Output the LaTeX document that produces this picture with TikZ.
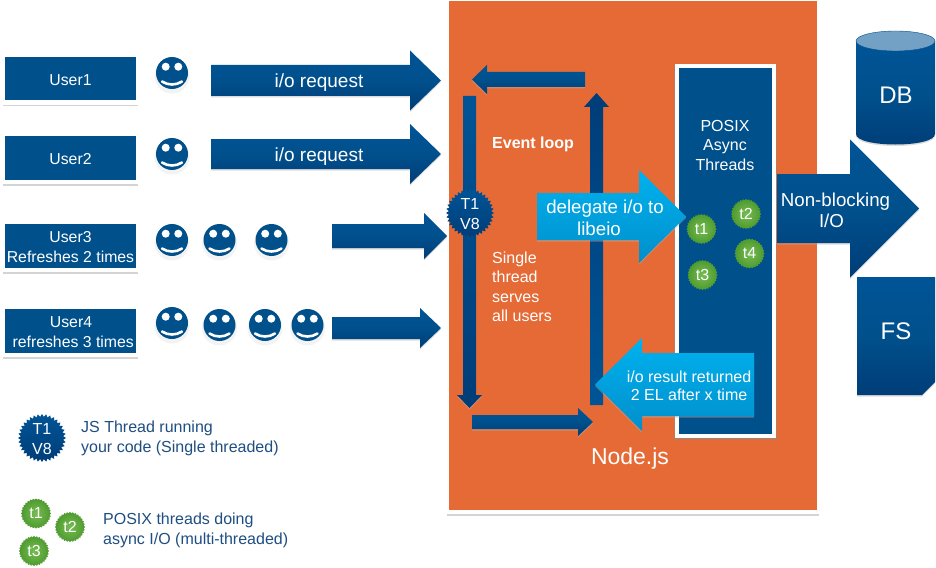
\documentclass[tikz,border=0pt]{standalone}
\usepackage{fontspec}
\setmainfont{Liberation Sans}
\usetikzlibrary{shapes.geometric}
\definecolor{orangebg}{HTML}{E56A35}
\definecolor{navy}{HTML}{00508C}
\definecolor{navytop}{HTML}{005496}
\definecolor{navybot}{HTML}{003D78}
\definecolor{skytop}{HTML}{00B2EE}
\definecolor{skybot}{HTML}{008FCC}
\definecolor{legendblue}{HTML}{1F4E82}
\definecolor{greenin}{HTML}{76BC52}
\definecolor{greenout}{HTML}{4E9A2E}
\definecolor{shadowgray}{HTML}{D2D4D6}
\tikzset{
  navyfill/.style={top color=navytop,bottom color=navybot,middle color=navy},
  skyfill/.style={top color=skytop,bottom color=skybot},
  shadowpath/.style={fill=black!30,opacity=.45,yshift=-1.5pt},
  userbox/.style={fill=navy,minimum width=131pt,inner sep=0pt,text=white,align=center},
  usertext/.style={text=white,inner sep=0pt,align=center,font=\fontsize{15.8}{19.6}\selectfont},
  underline/.style={line width=1.5pt,shadowgray},
  txt/.style={text=white,inner sep=0pt,align=center},
  s15/.style={font=\fontsize{16}{19.5}\selectfont},
  s17/.style={font=\fontsize{19}{22}\selectfont},
  legend/.style={text=legendblue,inner sep=0pt,align=left,anchor=west,font=\fontsize{16}{20}\selectfont},
  bluestar/.style={star,star points=36,star point ratio=1.13,minimum size=48pt,inner sep=0pt,top color=navytop,bottom color=navybot,
    label={[txt,yshift=-1pt,font=\fontsize{16}{19.5}\selectfont]center:T1\\V8}},
  gstar/.style={star,star points=32,star point ratio=1.09,minimum size=30pt,inner sep=0pt,inner color=greenin,outer color=greenout,
    label={[txt,font=\fontsize{16}{16}\selectfont]center:#1}},
  smiley/.pic={
    \fill[white] (0,1.5) circle (19);
    \fill[black!8,opacity=.6] (0,3) circle (17.5);
    \fill[navy] (0,0) circle (16);
    \fill[white] (-6.3,-6.3) circle (4) (6.3,-6.3) circle (4);
    \draw[white,line width=2.6pt,line cap=round] (-10,8.5) .. controls (-4,12.5) and (4,12.5) .. (10,8.5);
  }
}
% \harrow{style}{x0}{xhead}{xtip}{ycentre}{shaft half}{head half}
\newcommand{\harrow}[7]{%
  \path[shadowpath] (#2,#5-#6) -- (#3,#5-#6) -- (#3,#5-#7) -- (#4,#5) -- (#3,#5+#7) -- (#3,#5+#6) -- (#2,#5+#6) -- cycle;
  \path[#1] (#2,#5-#6) -- (#3,#5-#6) -- (#3,#5-#7) -- (#4,#5) -- (#3,#5+#7) -- (#3,#5+#6) -- (#2,#5+#6) -- cycle;
}
\begin{document}
\begin{tikzpicture}[x=1pt,y=-1pt]
\useasboundingbox (0,0) rectangle (936,567);
\fill[white] (0,0) rectangle (936,567);

% Node.js panel
\fill[orangebg] (449,1) rectangle (817,510);
\draw[underline] (447,515) -- (819,515);

% Users
\node[userbox,minimum height=43pt] (u1) at (70.5,78.5) {};
\node[userbox,minimum height=44pt] (u2) at (70.5,158) {};
\node[userbox,minimum height=44pt] (u3) at (70.5,246) {};
\node[userbox,minimum height=44pt] (u4) at (70.5,331) {};
\node[usertext] (u1t) at (70.5,80) {User1};
\node[usertext] (u2t) at (70.5,159.5) {User2};
\node[usertext] (u3t) at (70.5,247) {User3\\Refreshes 2 times};
\node[usertext] (u4t) at (71,332) {User4\\\ refreshes 3 times};
\draw[underline] (3,105.5) -- (138,105.5);
\draw[underline] (3,185) -- (138,185);
\draw[underline] (3,273) -- (138,273);
\draw[underline] (3,358) -- (138,358);

% Smileys
\pic at (172,73) {smiley};
\pic at (172,154) {smiley};
\pic at (172,240) {smiley};
\pic at (219.5,240) {smiley};
\pic at (271.5,240) {smiley};
\pic at (172,323) {smiley};
\pic at (219.5,325) {smiley};
\pic at (265,325) {smiley};
\pic at (307.5,325) {smiley};

% Request arrows
\harrow{navyfill}{211}{410}{441}{80.5}{15.5}{30}
\harrow{navyfill}{211}{410}{441}{154}{15}{30}
\harrow{navyfill}{332}{424}{447}{236}{12}{23}
\harrow{navyfill}{332}{420}{441}{328}{11}{20}
\node[txt,s17] (req1) at (319,83) {i/o request};
\node[txt,s17] (req2) at (319,157) {i/o request};

% Event loop arrows
\harrow{navyfill}{585}{487}{472}{79.5}{7.5}{14.5}
\harrow{navyfill}{472}{578}{593}{422}{7}{14}
% vertical down
\path[shadowpath] (463,96) -- (476,96) -- (476,395) -- (482,395) -- (469.5,408) -- (457,395) -- (463,395) -- cycle;
\path[top color=navytop,bottom color=navybot] (463,96) -- (476,96) -- (476,395) -- (482,395) -- (469.5,408) -- (457,395) -- (463,395) -- cycle;
% vertical up
\path[top color=navybot,bottom color=navytop] (590,405) -- (603,405) -- (603,107) -- (609,107) -- (596.5,93) -- (584,107) -- (590,107) -- cycle;

% POSIX panel
\fill[black!45,opacity=.45] (674,66) rectangle (777,440);
\node[draw=white,line width=4pt,fill=navy,minimum width=97pt,minimum height=370pt,inner sep=0pt] (posix) at (725.5,251) {};
\node[txt,s15] (posixlabel) at (725,145) {POSIX\\Async\\Threads};

% Delegate & result arrows
\harrow{skyfill}{537}{639}{686}{216.5}{23.5}{46.5}
\node[txt,font=\fontsize{18.7}{22}\selectfont] (deleg) at (605,218) {delegate i/o to\\libeio\hspace*{12pt}};
\harrow{skyfill}{754}{642}{595}{384.5}{31.5}{46.5}
\node[txt,font=\fontsize{16}{18}\selectfont] (result) at (689,385.5) {i/o result returned\\2 EL after x time};

% Non-blocking arrow
\harrow{navyfill}{777}{850}{919}{208.5}{34.5}{69}

% DB cylinder
\path[shadowpath] (856,41) -- (856,134) .. controls (856,148) and (935,148) .. (935,134) -- (935,41) -- cycle;
\path[navyfill] (856,41) -- (856,134) .. controls (856,148) and (935,148) .. (935,134) -- (935,41) -- cycle;
\draw[navy,fill=navytop!55!white] (895.5,41) ellipse (39.5 and 10);
\node[txt,font=\fontsize{24}{24}\selectfont] (db) at (896,95) {DB};

% FS document
\path[shadowpath] (857,277) -- (935,277) -- (935,382) -- (922,395) -- (857,395) -- cycle;
\path[navyfill] (857,277) -- (935,277) -- (935,382) -- (922,395) -- (857,395) -- cycle;
\node[txt,font=\fontsize{24}{24}\selectfont] (fs) at (896,331) {FS};

% Non-blocking label
\node[txt,font=\fontsize{18.7}{21}\selectfont] (nb) at (835.5,210.5) {Non-blocking\\I/O\hspace*{8pt}};

% Stars
\node[bluestar] (t1v8) at (470,213) {};
\node[gstar=t1] (t1) at (701.5,229) {};
\node[gstar=t2] (t2) at (746,214) {};
\node[gstar=t3] (t3) at (702.5,275) {};
\node[gstar=t4] (t4) at (749.5,253.5) {};

% Panel text
\node[txt,anchor=west,font=\bfseries\fontsize{16}{16}\selectfont] (evl) at (492,144) {Event loop};
\node[txt,anchor=west,align=left,s15] (single) at (492,287) {Single\\thread\\serves\\all users};
\node[txt,font=\fontsize{23}{23}\selectfont] (nodejs) at (630,459) {Node.js};

% Legend
\node[legend] (leg1) at (81,438) {JS Thread running\\your code (Single threaded)};
\node[bluestar] (lt1) at (42,438) {};
\node[gstar=t1] (lg1) at (36,513.5) {};
\node[gstar=t2] (lg2) at (70,527) {};
\node[gstar=t3] (lg3) at (34,551) {};
\node[legend] (leg2) at (103,530) {POSIX threads doing\\async I/O (multi-threaded)};
\end{tikzpicture}
\end{document}
